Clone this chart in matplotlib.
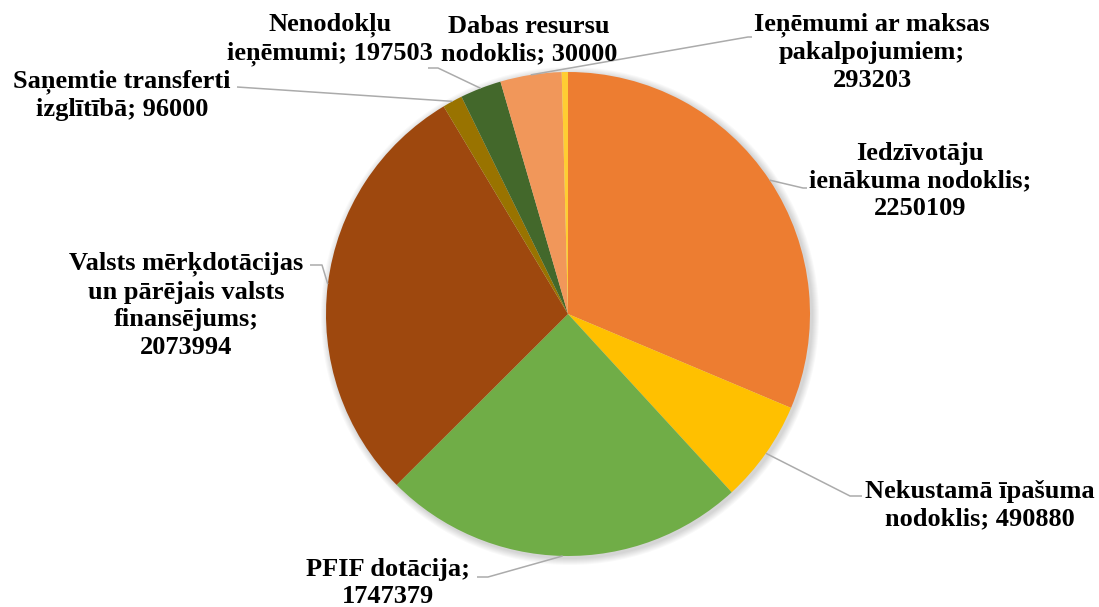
import matplotlib.pyplot as plt
import numpy as np
from matplotlib.patches import Circle

# Data (clockwise from 12 o'clock)
categories = ['Iedzīvotāju ienākuma nodoklis', 'Nekustamā īpašuma nodoklis',
              'PFIF dotācija', 'Valsts mērķdotācijas un pārējais valsts finansējums',
              'Saņemtie transferti izglītībā', 'Nenodokļu ieņēmumi',
              'Ieņēmumi ar maksas pakalpojumiem', 'Dabas resursu nodoklis']
values = [2250109, 490880, 1747379, 2073994, 96000, 197503, 293203, 30000]
label_fmt = ['Iedzīvotāju\nienākuma nodoklis;\n{}',
             'Nekustamā īpašuma\nnodoklis; {}',
             'PFIF dotācija;\n{}',
             'Valsts mērķdotācijas\nun pārējais valsts\nfinansējums;\n{}',
             'Saņemtie transferti\nizglītībā; {}',
             'Nenodokļu\nieņēmumi; {}',
             'Ieņēmumi ar maksas\npakalpojumiem;\n{}',
             'Dabas resursu\nnodoklis; {}']
colors = ['#ED7D31', '#FFC000', '#70AD47', '#9E480E',
          '#997300', '#43682B', '#F1975A', '#FFCD33']

W, H = 1099, 607
CX, CY, R = 568, 314, 242   # pie centre / radius in pixels (y down)

# label block centre (pixels) and elbow of leader line (None = no leader)
label_pos = [(920, 181), (980, 505), (388, 583), (186, 305),
             (122, 95), (330, 39), (872, 52), (529, 40)]
elbows = [[(807, 188), (803, 188)],
          [(862, 496), (850, 496)],
          [(477, 577), (488, 577)],
          [(310, 265), (322, 265)],
          [(237, 87)],
          [(428, 68), (438, 68)],
          [(752, 37), (748, 37)],
          None]

plt.rcParams['font.family'] = ['Liberation Serif', 'DejaVu Serif']

fig = plt.figure(figsize=(W / 100, H / 100), dpi=100)
ax = fig.add_axes([0, 0, 1, 1])

def py(y):
    return H - y

# soft outer shadow
for i in range(7):
    ax.add_patch(Circle((CX + 2, py(CY) - 2), R + 1 + i, color='black',
                        alpha=0.022, lw=0, zorder=0))

wedges, _ = ax.pie(values, colors=colors, startangle=90, counterclock=False,
                   radius=R, center=(CX, py(CY)),
                   wedgeprops=dict(linewidth=0))
for w in wedges:
    w.set_zorder(2)

for i, w in enumerate(wedges):
    ang = np.deg2rad((w.theta1 + w.theta2) / 2)
    ax_x = CX + R * np.cos(ang)
    ax_y = py(CY) + R * np.sin(ang)
    if elbows[i] is not None:
        xs = [p[0] for p in elbows[i]] + [ax_x]
        ys = [py(p[1]) for p in elbows[i]] + [ax_y]
        ax.plot(xs, ys, color='#ABABAB', lw=1.1, zorder=3,
                solid_capstyle='butt')
    lx, ly = label_pos[i]
    ax.text(lx, py(ly), label_fmt[i].format(values[i]), ha='center',
            va='center', multialignment='center', fontsize=19,
            fontweight='bold', color='black', linespacing=1.25, zorder=4)

ax.set_xlim(0, W)
ax.set_ylim(0, H)
ax.set_aspect('auto')
ax.axis('off')

fig.savefig('out.png', dpi=100, facecolor='white')
